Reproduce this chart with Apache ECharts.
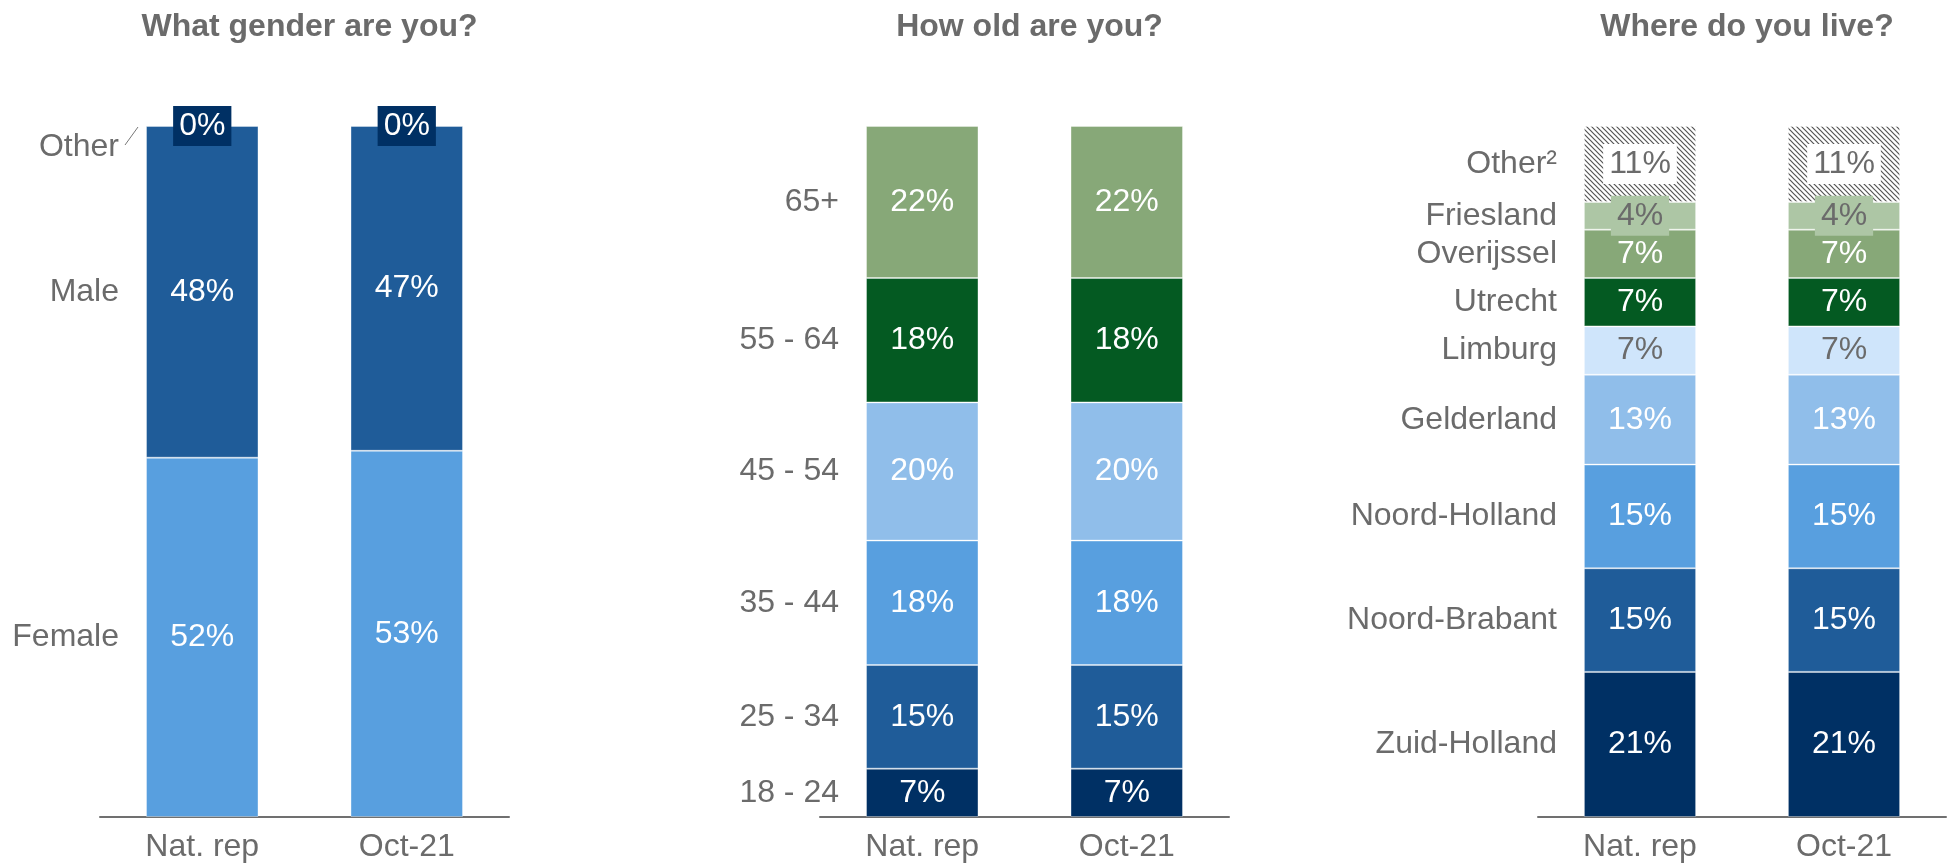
<!DOCTYPE html>
<html>
<head>
<meta charset="utf-8">
<script src="https://cdn.jsdelivr.net/npm/echarts@6/dist/echarts.min.js"></script>
<style>
  html, body { margin: 0; padding: 0; background: #fff; }
  #chart { width: 1953px; height: 866px; }
</style>
</head>
<body>
<div id="chart"></div>
<script>
// data
const columns = ['Nat. rep', 'Oct-21']

const genderNames = ['Female', 'Male', 'Other']
const genderNat = [52, 48, 0]
const genderOct = [53, 47, 0]

const ageNames = ['18 - 24', '25 - 34', '35 - 44', '45 - 54', '55 - 64', '65+']
const ageNat = [7, 15, 18, 20, 18, 22]
const ageOct = [7, 15, 18, 20, 18, 22]

const regionNames = ['Zuid-Holland', 'Noord-Brabant', 'Noord-Holland', 'Gelderland', 'Limburg', 'Utrecht', 'Overijssel', 'Friesland', 'Other²']
const regionNat = [21, 15, 15, 13, 7, 7, 7, 4, 11]
const regionOct = [21, 15, 15, 13, 7, 7, 7, 4, 11]

const titles = ['What gender are you?', 'How old are you?', 'Where do you live?']

// colours
const navy = '#003064'
const medBlue = '#1f5c99'
const brightBlue = '#589fdf'
const lightBlue = '#90beea'
const paleBlue = '#cfe5fb'
const darkGreen = '#045a22'
const sage = '#87a878'
const lightSage = '#adc6a5'
const grey = '#6b6b6b'
const font = 'Liberation Sans, Arial, sans-serif'
const fs = 32

// hatch pattern for "Other"
const hatch = document.createElement('canvas')
hatch.width = 5
hatch.height = 5
const hctx = hatch.getContext('2d')
hctx.fillStyle = '#fff'
hctx.fillRect(0, 0, 5, 5)
hctx.strokeStyle = '#555'
hctx.lineWidth = 1.2
hctx.beginPath()
hctx.moveTo(-1, -1); hctx.lineTo(6, 6)
hctx.moveTo(-1, 4); hctx.lineTo(1, 6)
hctx.moveTo(4, -1); hctx.lineTo(6, 1)
hctx.stroke()

const panels = [
  {
    names: genderNames, nat: genderNat, oct: genderOct,
    colors: [brightBlue, medBlue, navy],
    textColors: ['#fff', '#fff', '#fff'],
    labelBg: [null, null, navy],
    grid: { left: 100, width: 409 }
  },
  {
    names: ageNames, nat: ageNat, oct: ageOct,
    colors: [navy, medBlue, brightBlue, lightBlue, darkGreen, sage],
    textColors: ['#fff', '#fff', '#fff', '#fff', '#fff', '#fff'],
    labelBg: [null, null, null, null, null, null],
    grid: { left: 820, width: 409 }
  },
  {
    names: regionNames, nat: regionNat, oct: regionOct,
    colors: [navy, medBlue, brightBlue, lightBlue, paleBlue, darkGreen, sage, lightSage, { image: hatch, repeat: 'repeat' }],
    textColors: ['#fff', '#fff', '#fff', '#fff', grey, '#fff', '#fff', grey, grey],
    labelBg: [null, null, null, null, null, null, null, lightSage, '#fff'],
    grid: { left: 1538, width: 408 }
  }
]

const grids = []
const xAxes = []
const yAxes = []
const series = []
const titleList = []

panels.forEach((p, g) => {
  grids.push({ left: p.grid.left, width: p.grid.width, top: 126, bottom: 49 })

  // midpoints of the first column, used for the category names on the left
  const mids = []
  let acc = 0
  p.nat.forEach(v => { mids.push(acc + v / 2); acc += v })

  xAxes.push({
    type: 'category',
    gridIndex: g,
    data: columns,
    axisLine: { lineStyle: { color: '#707070', width: 2 } },
    axisTick: { show: false },
    axisLabel: { fontSize: fs, color: grey, fontFamily: font, margin: 14 }
  })
  yAxes.push({
    type: 'value',
    gridIndex: g,
    min: 0,
    max: 100,
    axisLine: { show: false },
    axisTick: { show: false },
    splitLine: { show: false },
    axisLabel: {
      customValues: mids,
      margin: -19,
      fontSize: fs,
      color: grey,
      fontFamily: font,
      formatter: value => {
        let idx = 0
        mids.forEach((m, i) => { if (Math.abs(m - value) < 1e-6) idx = i })
        if (p.nat[idx] === 0) return '{low|' + p.names[idx] + '}'
        return p.names[idx]
      },
      rich: {
        low: { fontSize: fs, color: grey, fontFamily: font, padding: [42, 0, 0, 0] }
      }
    }
  })

  p.names.forEach((name, i) => {
    const bg = p.labelBg[i]
    series.push({
      type: 'bar',
      name: name,
      xAxisIndex: g,
      yAxisIndex: g,
      stack: 'panel' + g,
      barWidth: '55%',
      data: [p.nat[i], p.oct[i]],
      itemStyle: {
        color: p.colors[i],
        borderColor: 'rgba(255,255,255,0.35)',
        borderWidth: p.nat[i] === 0 ? 0 : 1
      },
      label: {
        show: true,
        position: 'inside',
        formatter: v => v.value + '%',
        fontSize: fs,
        fontFamily: font,
        color: p.textColors[i],
        backgroundColor: bg || 'transparent',
        padding: bg ? [4, 6] : 0
      },
      emphasis: { disabled: true },
      silent: true,
      animation: false
    })
  })

  titleList.push({
    text: titles[g],
    left: p.grid.left + p.grid.width / 2,
    top: 6,
    textAlign: 'center',
    textStyle: { fontSize: 32, fontWeight: 'bold', color: grey, fontFamily: font }
  })
})

const chart = echarts.init(document.getElementById('chart'))
chart.setOption({
  animation: false,
  title: titleList,
  grid: grids,
  xAxis: xAxes,
  yAxis: yAxes,
  series: series
})

// small leader line from the "Other" gender label to the top of the first bar
const barTop = chart.convertToPixel({ gridIndex: 0 }, [columns[0], 100])
const halfBar = panels[0].grid.width / columns.length * 0.55 / 2
const barLeft = barTop[0] - halfBar
chart.setOption({
  graphic: [{
    type: 'line',
    shape: { x1: barLeft - 21, y1: barTop[1] + 19, x2: barLeft - 8, y2: barTop[1] + 1 },
    style: { stroke: '#777', lineWidth: 1 },
    silent: true
  }]
})
</script>
</body>
</html>
